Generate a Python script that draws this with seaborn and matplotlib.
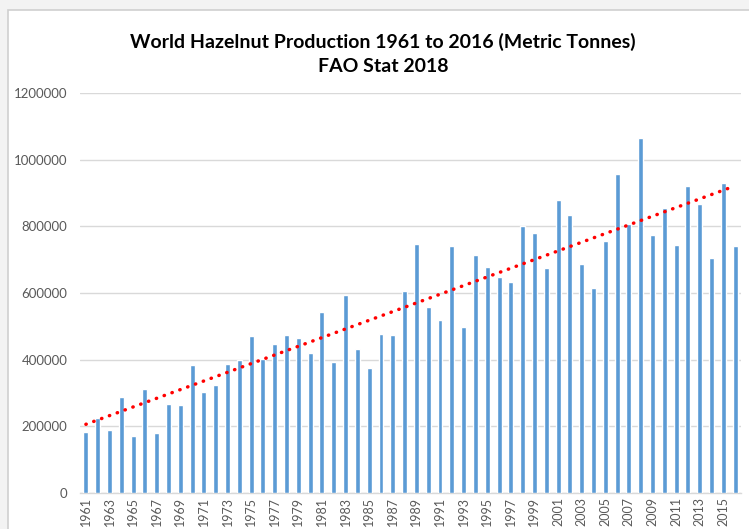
import numpy as np
import pandas as pd
import matplotlib.pyplot as plt
import matplotlib.patches as patches
import seaborn as sns

years = list(range(1961, 2017))
production = [
    182000, 225000, 190000, 287000, 170000, 313000, 179000, 267000, 263000, 383000,
    304000, 324000, 388000, 398000, 471000, 402000, 447000, 473000, 465000, 421000,
    544000, 392000, 594000, 432000, 375000, 476000, 473000, 607000, 748000, 559000,
    520000, 740000, 497000, 715000, 677000, 647000, 632000, 800000, 779000, 675000,
    878000, 833000, 687000, 614000, 757000, 958000, 808000, 1066000, 773000, 854000,
    743000, 921000, 866000, 706000, 930000, 742000,
]
y_ticks = [0, 200000, 400000, 600000, 800000, 1000000, 1200000]

df = pd.DataFrame({'Year': [str(y) for y in years], 'Production': production})

sns.set_theme(style="white")
plt.rcParams['font.family'] = ['Lato', 'DejaVu Sans']

fig = plt.figure(figsize=(7.49, 5.29), dpi=100)
fig.patch.set_facecolor('#f3f3f3')
# white chart area with thin grey frame (screenshot look)
fig.patches.append(patches.Rectangle((8 / 749, -0.01), 1, 1.01 - 10 / 529, transform=fig.transFigure,
                                     facecolor='white', edgecolor='#cfcfcf', linewidth=1.2, zorder=-5))

ax = fig.add_axes([80 / 749, 1 - 493 / 529, 661 / 749, 400 / 529])
ax.set_facecolor('none')

sns.barplot(data=df, x='Year', y='Production', color='#5b9bd5', width=0.42,
            saturation=1, ax=ax, zorder=3)

# linear trend line
x = np.arange(len(years))
slope, intercept = np.polyfit(x, production, 1)
ax.plot(x, slope * x + intercept, color='#ff0000', linestyle=(0, (0.1, 2.3)),
        linewidth=2.5, dash_capstyle='round', zorder=4)

ax.set_ylim(0, 1200000)
ax.set_xlim(-0.5, len(years) - 0.5)
ax.set_yticks(y_ticks)
ax.set_yticklabels([str(v) for v in y_ticks])
ax.set_xticks(x[::2])
ax.set_xticklabels([str(y) for y in years[::2]], rotation=90)
ax.tick_params(axis='y', labelsize=9.5, colors='#595959', length=0, pad=9)
ax.tick_params(axis='x', labelsize=9, colors='#595959', length=0, pad=3)
ax.yaxis.grid(True, color='#d9d9d9', linewidth=1, zorder=0)
ax.set_xlabel('')
ax.set_ylabel('')
for side in ['top', 'right', 'left']:
    ax.spines[side].set_visible(False)
ax.spines['bottom'].set_color('#d9d9d9')
ax.spines['bottom'].set_linewidth(1)

fig.text(383 / 749, 1 - 42 / 529, 'World Hazelnut Production 1961 to 2016 (Metric Tonnes)',
         ha='center', va='center', fontsize=14, fontweight='bold', color='black')
fig.text(383 / 749, 1 - 67 / 529, 'FAO Stat 2018',
         ha='center', va='center', fontsize=14, fontweight='bold', color='black')

fig.savefig('out.png', dpi=100, facecolor=fig.get_facecolor())
plt.close(fig)
